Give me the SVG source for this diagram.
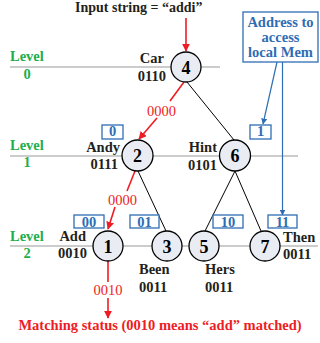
<svg xmlns="http://www.w3.org/2000/svg" width="320" height="343" viewBox="0 0 320 343">
<defs>
<marker id="ar" viewBox="0 0 10 10" refX="9" refY="5" markerWidth="8" markerHeight="8" orient="auto" markerUnits="userSpaceOnUse"><path d="M0,0 L10,5 L0,10 Z" fill="#ee1c24"/></marker>
<marker id="ab" viewBox="0 0 10 10" refX="9" refY="5" markerWidth="6" markerHeight="6" orient="auto" markerUnits="userSpaceOnUse"><path d="M0,0 L10,5 L0,10 Z" fill="#2e6db4"/></marker>
</defs>
<style>
text{font-family:"Liberation Serif","Times New Roman",serif;font-weight:bold}
.lv{fill:#1fae4b;font-size:14.5px}
.lbl{fill:#231f20;font-size:14.5px}
.num{fill:#000;font-size:18px;text-anchor:middle}
.red{fill:#ee1c24}
.rn{fill:#ee1c24;font-size:14.5px;font-weight:normal;text-anchor:middle}
.rl{stroke:#ee1c24;stroke-width:1.6;fill:none}
.bl{stroke:#000;stroke-width:1;fill:none}
.lvl{stroke:#9a9a9a;stroke-width:1.2}
.nd{fill:#e9edf3;stroke:#000;stroke-width:1.3}
.bx{fill:#fff;stroke:#2e6db4;stroke-width:1.3}
.bt{fill:#2e6db4;font-size:14.5px;text-anchor:middle}
.blu{stroke:#2e6db4;stroke-width:1.2;fill:none}
</style>
<g id="levels">
<line class="lvl" x1="10" y1="67" x2="220" y2="67"/>
<line class="lvl" x1="10" y1="156" x2="298" y2="156"/>
<line class="lvl" x1="10" y1="246" x2="318" y2="246"/>
<text class="lv" x="10" y="61">Level</text>
<text class="lv" x="27" y="79" text-anchor="middle">0</text>
<text class="lv" x="10" y="150">Level</text>
<text class="lv" x="27" y="167" text-anchor="middle">1</text>
<text class="lv" x="10" y="241">Level</text>
<text class="lv" x="27" y="258" text-anchor="middle">2</text>
</g>
<g id="connectors">
<line class="bl" x1="187" y1="82" x2="234" y2="140"/>
<line class="bl" x1="138" y1="171" x2="166" y2="231"/>
<line class="bl" x1="235" y1="171" x2="205" y2="231"/>
<line class="bl" x1="235" y1="171" x2="261" y2="231"/>
<line class="rl" x1="186" y1="18" x2="186" y2="51" marker-end="url(#ar)"/>
<line class="rl" x1="184" y1="82" x2="170" y2="101"/>
<line class="rl" x1="157" y1="118" x2="139" y2="139" marker-end="url(#ar)"/>
<line class="rl" x1="135" y1="171" x2="127" y2="191"/>
<line class="rl" x1="115" y1="207" x2="108" y2="229" marker-end="url(#ar)"/>
<line class="rl" x1="108" y1="261" x2="108" y2="282"/>
<line class="rl" x1="108" y1="298" x2="108" y2="318" marker-end="url(#ar)"/>
<line class="blu" x1="277" y1="62" x2="263" y2="124" marker-end="url(#ab)"/>
<line class="blu" x1="282.5" y1="62" x2="282.5" y2="215" marker-end="url(#ab)"/>
<text class="rn" x="161.5" y="115.5">0000</text>
<text class="rn" x="122.5" y="204.5">0000</text>
<text class="rn" x="108" y="295">0010</text>
</g>
<g id="title"><text x="75" y="12" font-size="14" fill="#231f20">Input string = “addi”</text></g>
<g id="status"><text class="red" x="160" y="330" font-size="14.5" text-anchor="middle">Matching status (0010 means “add” matched)</text></g>
<g id="addr-note">
<rect class="bx" x="243" y="12" width="75" height="50"/>
<text class="bt" x="280.5" y="27">Address to</text>
<text class="bt" x="280.5" y="42">access</text>
<text class="bt" x="280.5" y="57">local Mem</text>
</g>
<g id="node4"><circle class="nd" cx="186" cy="67" r="15"/><text class="num" x="186" y="73.5">4</text>
<text class="lbl" x="164" y="63" text-anchor="end">Car</text><text class="lbl" x="166" y="81" text-anchor="end">0110</text></g>
<g id="node2"><circle class="nd" cx="137.5" cy="155.5" r="15.5"/><text class="num" x="137.5" y="162">2</text>
<text class="lbl" x="120" y="152" text-anchor="end">Andy</text><text class="lbl" x="118" y="169" text-anchor="end">0111</text>
<rect class="bx" x="102" y="125" width="21" height="14"/><text class="bt" x="112.5" y="136">0</text></g>
<g id="node6"><circle class="nd" cx="235" cy="155.5" r="15.5"/><text class="num" x="235" y="162">6</text>
<text class="lbl" x="217" y="152" text-anchor="end">Hint</text><text class="lbl" x="217" y="170" text-anchor="end">0101</text>
<rect class="bx" x="250" y="125" width="21" height="14"/><text class="bt" x="260.5" y="136">1</text></g>
<g id="node1"><circle class="nd" cx="108" cy="246" r="15"/><text class="num" x="108" y="252.5">1</text>
<text class="lbl" x="86" y="241" text-anchor="end">Add</text><text class="lbl" x="87" y="258" text-anchor="end">0010</text>
<rect class="bx" x="74" y="215" width="30" height="13"/><text class="bt" x="89" y="226.5">00</text></g>
<g id="node3"><circle class="nd" cx="167" cy="246" r="15"/><text class="num" x="167" y="252.5">3</text>
<text class="lbl" x="139" y="274">Been</text><text class="lbl" x="139" y="292">0011</text>
<rect class="bx" x="130" y="215" width="29" height="13"/><text class="bt" x="144.5" y="226.5">01</text></g>
<g id="node5"><circle class="nd" cx="204" cy="246" r="15"/><text class="num" x="204" y="252.5">5</text>
<text class="lbl" x="205" y="274">Hers</text><text class="lbl" x="205" y="292">0011</text>
<rect class="bx" x="213" y="215" width="30" height="13"/><text class="bt" x="228" y="226.5">10</text></g>
<g id="node7"><circle class="nd" cx="265" cy="246" r="15"/><text class="num" x="265" y="252.5">7</text>
<text class="lbl" x="283" y="242">Then</text><text class="lbl" x="283" y="259">0011</text>
<rect class="bx" x="268" y="215" width="29" height="13"/><text class="bt" x="282.5" y="226.5">11</text></g>
</svg>
